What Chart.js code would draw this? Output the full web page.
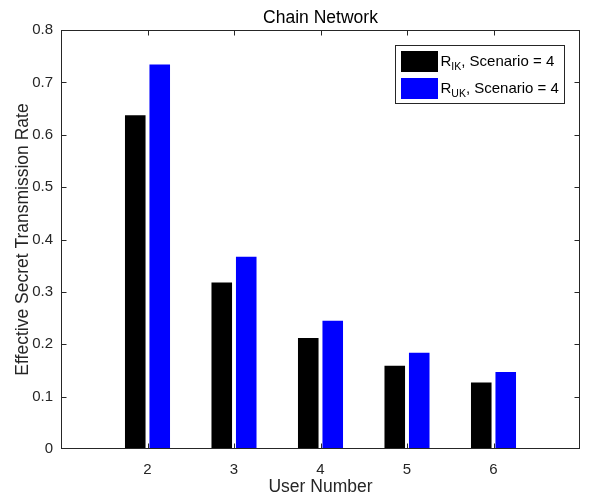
<!DOCTYPE html>
<html>
<head>
<meta charset="utf-8">
<script src="https://cdn.jsdelivr.net/npm/chart.js@4"></script>
<style>
  html, body { margin: 0; padding: 0; background: #ffffff; }
  #c { display: block; }
</style>
</head>
<body>
<canvas id="c" width="592" height="498"></canvas>
<script>
// Effective secret transmission rate per user number, two key schemes
const userNumbers = [2, 3, 4, 5, 6];
const rateIK = [0.637, 0.318, 0.212, 0.159, 0.127];
const rateUK = [0.734, 0.367, 0.245, 0.184, 0.147];

// Legend text pieces: symbol, subscript, remainder
const seriesSymbol = ['R', 'R'];
const seriesSub = ['IK', 'UK'];
const seriesNote = [', Scenario = 4', ', Scenario = 4'];
const seriesColors = ['#000000', '#0000ff'];

const chartTitle = 'Chain Network';
const xTitle = 'User Number';
const yTitle = 'Effective Secret Transmission Rate';

const FONT = "'Liberation Sans', Arial, Helvetica, sans-serif";
const INK = '#262626';

// Box around the plot with inward tick marks on all four sides
const axesBox = {
  id: 'axesBox',
  beforeDatasetsDraw(chart) {
    const { ctx, chartArea: a, scales: { x, y } } = chart;
    const L = Math.round(a.left) + 0.5, R = Math.round(a.right) - 0.5;
    const T = Math.round(a.top) + 0.5, B = Math.round(a.bottom) - 0.5;
    const tl = 5;
    ctx.save();
    ctx.strokeStyle = INK;
    ctx.lineWidth = 1;
    ctx.beginPath();
    x.ticks.forEach(t => {
      if (t.value <= x.min || t.value >= x.max) return;
      const px = Math.round(x.getPixelForValue(t.value)) + 0.5;
      ctx.moveTo(px, B); ctx.lineTo(px, B - tl);
      ctx.moveTo(px, T); ctx.lineTo(px, T + tl);
    });
    y.ticks.forEach(t => {
      if (t.value <= y.min || t.value >= y.max) return;
      const py = Math.round(y.getPixelForValue(t.value)) + 0.5;
      ctx.moveTo(L, py); ctx.lineTo(L + tl, py);
      ctx.moveTo(R, py); ctx.lineTo(R - tl, py);
    });
    ctx.stroke();
    ctx.restore();
  },
  afterDatasetsDraw(chart) {
    const { ctx, chartArea: a } = chart;
    const L = Math.round(a.left) + 0.5, R = Math.round(a.right) - 0.5;
    const T = Math.round(a.top) + 0.5, B = Math.round(a.bottom) - 0.5;
    ctx.save();
    ctx.strokeStyle = INK;
    ctx.lineWidth = 1;
    ctx.strokeRect(L, T, R - L, B - T);
    ctx.restore();
  }
};

// Legend with subscripted series symbols
const subLegend = {
  id: 'subLegend',
  afterDraw(chart) {
    const { ctx, chartArea: a } = chart;
    const boxR = Math.round(a.right) - 15.5;
    const boxT = Math.round(a.top) + 15.5;
    const boxW = 169, boxH = 58;
    const boxL = boxR - boxW;
    ctx.save();
    ctx.fillStyle = '#ffffff';
    ctx.fillRect(boxL, boxT, boxW, boxH);
    ctx.strokeStyle = INK;
    ctx.lineWidth = 1;
    ctx.strokeRect(boxL, boxT, boxW, boxH);
    chart.data.datasets.forEach((ds, i) => {
      const rowTop = Math.round(boxT + 5 + i * 27);
      ctx.fillStyle = ds.backgroundColor;
      ctx.fillRect(Math.round(boxL + 5), rowTop, 37, 21);
      const tx = boxL + 45;
      const base = rowTop + 15;
      ctx.fillStyle = '#000000';
      ctx.textBaseline = 'alphabetic';
      ctx.textAlign = 'left';
      ctx.font = '15px ' + FONT;
      ctx.fillText(seriesSymbol[i], tx, base);
      let cx = tx + ctx.measureText(seriesSymbol[i]).width;
      ctx.font = '10.5px ' + FONT;
      ctx.fillText(seriesSub[i], cx, base + 4);
      cx += ctx.measureText(seriesSub[i]).width;
      ctx.font = '15px ' + FONT;
      ctx.fillText(seriesNote[i], cx, base);
    });
    ctx.restore();
  }
};

const toPoints = vals => userNumbers.map((u, i) => ({ x: u, y: vals[i] }));

new Chart(document.getElementById('c'), {
  type: 'bar',
  data: {
    datasets: [
      { label: 'R_IK' + seriesNote[0], data: toPoints(rateIK), backgroundColor: seriesColors[0] },
      { label: 'R_UK' + seriesNote[1], data: toPoints(rateUK), backgroundColor: seriesColors[1] }
    ]
  },
  options: {
    responsive: false,
    animation: false,
    devicePixelRatio: 1,
    categoryPercentage: 0.566,
    barPercentage: 0.84,
    borderWidth: 0,
    layout: { padding: { left: 0, right: 1, top: 0, bottom: 0 } },
    plugins: {
      legend: { display: false },
      tooltip: { enabled: false },
      title: {
        display: true,
        fullSize: false,
        text: chartTitle,
        color: '#000000',
        font: { family: FONT, size: 17.5, weight: 'normal', lineHeight: 1.2 },
        padding: { top: 8, bottom: 1 }
      }
    },
    scales: {
      x: {
        type: 'linear',
        min: 1,
        max: 7,
        offset: false,
        grid: { display: false, drawTicks: false },
        border: { display: false },
        ticks: {
          stepSize: 1,
          padding: 12,
          color: INK,
          maxRotation: 0,
          font: { family: FONT, size: 15 },
          callback: v => (userNumbers.includes(v) ? String(v) : '')
        },
        title: {
          display: true,
          text: xTitle,
          color: INK,
          font: { family: FONT, size: 17.5, lineHeight: 1.2 },
          padding: { top: 0, bottom: 0 }
        },
        afterFit: s => { s.height = 49; }
      },
      y: {
        min: 0,
        max: 0.8,
        grid: { display: false, drawTicks: false },
        border: { display: false },
        ticks: {
          stepSize: 0.1,
          padding: 8,
          color: INK,
          font: { family: FONT, size: 15 },
          callback: v => String(+v.toFixed(1))
        },
        title: {
          display: true,
          text: yTitle,
          color: INK,
          font: { family: FONT, size: 17.5, lineHeight: 1.2 },
          padding: { top: 12.5, bottom: 0 }
        },
        afterFit: s => { s.width = 61; }
      }
    }
  },
  plugins: [axesBox, subLegend]
});
</script>
</body>
</html>
